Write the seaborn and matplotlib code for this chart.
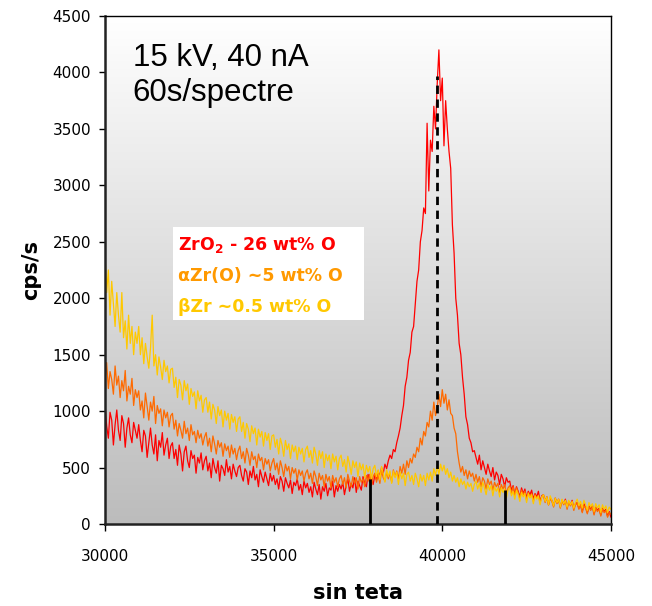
import numpy as np
import pandas as pd
import matplotlib
matplotlib.use("Agg")
import matplotlib.pyplot as plt
import seaborn as sns

# sin teta axis, one reading every 50 units
x_start, x_stop, x_step = 30000, 45000, 50

zro2 = [
    1050, 870, 760, 990, 920, 700, 880, 1010, 830, 740, 960, 890, 680, 850, 940, 790, 720, 900, 830, 760,
    880, 740, 640, 830, 780, 590, 720, 850, 700, 620, 790, 560, 740, 680, 810, 610, 700, 760, 580, 690,
    720, 580, 660, 520, 700, 620, 470, 640, 690, 560, 500, 650, 580, 610, 450, 590, 540, 630, 480, 560,
    600, 470, 540, 410, 580, 500, 450, 560, 380, 520, 490, 430, 570, 460, 510, 400, 530, 470, 420, 500,
    520, 430, 380, 490, 460, 350, 470, 410, 510, 390, 440, 330, 480, 420, 370, 460, 400, 340, 450, 380,
    430, 350, 400, 310, 420, 380, 290, 410, 360, 320, 390, 270, 370, 340, 400, 300, 350, 260, 380, 320,
    360, 280, 330, 240, 370, 310, 260, 350, 220, 330, 290, 360, 250, 320, 300, 380, 240, 340, 290, 350,
    310, 370, 260, 340, 400, 290, 360, 320, 410, 280, 380, 340, 300, 420, 360, 330, 440, 370, 410, 350,
    430, 390, 470, 420, 500, 450, 530, 490, 560, 610, 580, 660, 640, 720, 780, 850, 960, 1050, 1220, 1300,
    1450, 1520, 1700, 1750, 1950, 2150, 2250, 2500, 2600, 2800, 2750, 3550, 2950, 3400, 3300, 3700, 3500, 3900, 4200, 3750,
    3950, 3350, 3750, 3500, 3300, 3150, 2650, 2400, 2000, 1850, 1600, 1500, 1300, 1150, 950, 880, 760, 720, 640, 650,
    590, 530, 610, 480, 560, 500, 440, 530, 470, 420, 500, 390, 460, 430, 350, 440, 400, 330, 410, 370,
    380, 300, 340, 260, 330, 290, 240, 320, 270, 310, 230, 290, 260, 300, 220, 270, 240, 290, 200, 250,
    260, 200, 240, 170, 230, 210, 160, 230, 190, 220, 150, 210, 180, 220, 150, 200, 170, 210, 140, 180,
    190, 140, 170, 110, 180, 150, 100, 160, 130, 170, 90, 150, 120, 140, 80, 140, 110, 130, 70, 110,
    60,
]

alpha_zr = [
    1250, 1430, 1200, 1350, 1280, 1150, 1400, 1230, 1310, 1120, 1270, 1180, 1360, 1090, 1220, 1150, 1290, 1050, 1190, 1120,
    1180, 1010, 1090, 940, 1160, 1040, 920, 1080, 1000, 1130, 890, 1050, 980, 1020, 870, 1010, 940, 990, 860, 960,
    980, 840, 920, 780, 890, 830, 760, 910, 800, 850, 740, 880, 790, 820, 720, 830, 760, 800, 700, 770,
    810, 690, 760, 640, 780, 710, 620, 740, 680, 720, 600, 710, 650, 690, 590, 700, 620, 670, 570, 650,
    690, 580, 640, 540, 670, 610, 520, 640, 570, 600, 500, 620, 560, 590, 480, 580, 530, 570, 470, 540,
    580, 480, 540, 440, 560, 500, 420, 530, 470, 510, 400, 500, 450, 490, 390, 480, 430, 470, 380, 450,
    480, 400, 450, 360, 470, 420, 340, 450, 390, 430, 330, 440, 380, 420, 320, 430, 370, 410, 330, 400,
    430, 350, 410, 320, 440, 380, 330, 420, 360, 410, 310, 420, 370, 400, 330, 430, 380, 440, 340, 420,
    450, 370, 430, 360, 470, 410, 380, 460, 400, 450, 370, 480, 420, 470, 400, 510, 450, 530, 440, 560,
    500, 580, 540, 620, 590, 680, 640, 760, 700, 820, 780, 900, 860, 1000, 920, 1080, 960, 1030, 1150, 1040,
    1190, 1070, 1150, 1010, 1100, 980, 960, 850, 800, 640, 540, 460, 510, 430, 480, 400, 470, 420, 450, 380,
    440, 370, 420, 330, 410, 380, 310, 400, 350, 380, 300, 370, 330, 360, 280, 350, 310, 350, 270, 320,
    340, 270, 330, 250, 320, 280, 230, 300, 260, 290, 210, 280, 240, 270, 200, 260, 230, 250, 190, 240,
    250, 190, 240, 170, 230, 200, 150, 220, 180, 210, 140, 210, 170, 200, 130, 190, 160, 190, 120, 170,
    180, 130, 170, 100, 160, 140, 90, 150, 120, 150, 80, 140, 110, 130, 70, 130, 100, 120, 60, 100,
    90,
]

beta_zr = [
    2400, 2050, 2250, 1850, 2150, 1950, 1750, 2050, 1850, 1700, 2050, 1650, 1800, 1550, 1850, 1600, 1750, 1500, 1700, 1600,
    1750, 1500, 1650, 1420, 1600, 1480, 1380, 1560, 1850, 1400, 1500, 1320, 1480, 1390, 1280, 1450, 1350, 1400, 1250, 1370,
    1380, 1210, 1300, 1120, 1280, 1230, 1100, 1270, 1180, 1240, 1060, 1200, 1130, 1170, 1020, 1180, 1090, 1140, 990, 1100,
    1120, 990, 1080, 930, 1060, 1010, 890, 1040, 960, 1010, 860, 1000, 920, 980, 840, 970, 900, 950, 820, 930,
    950, 820, 900, 760, 890, 840, 730, 870, 800, 850, 700, 840, 770, 820, 690, 810, 740, 800, 660, 780,
    790, 680, 750, 620, 760, 700, 600, 740, 660, 710, 580, 700, 640, 690, 570, 680, 620, 670, 550, 660,
    690, 590, 650, 540, 680, 620, 520, 650, 580, 640, 500, 620, 560, 610, 490, 620, 550, 600, 480, 580,
    610, 510, 570, 460, 600, 530, 440, 560, 500, 550, 420, 540, 480, 530, 410, 520, 460, 510, 400, 490,
    520, 420, 480, 390, 510, 450, 370, 480, 420, 470, 360, 470, 410, 460, 350, 460, 400, 450, 340, 440,
    460, 380, 430, 350, 450, 400, 330, 440, 380, 430, 340, 450, 390, 460, 380, 490, 430, 510, 440, 530,
    470, 520, 440, 490, 410, 460, 380, 430, 370, 410, 330, 400, 350, 380, 310, 370, 330, 360, 290, 350,
    380, 310, 360, 280, 370, 320, 260, 350, 300, 340, 250, 330, 290, 320, 240, 320, 280, 310, 230, 300,
    320, 250, 290, 220, 300, 260, 200, 280, 240, 270, 190, 270, 230, 260, 180, 250, 220, 250, 170, 240,
    260, 200, 240, 170, 250, 210, 160, 230, 190, 220, 150, 220, 180, 210, 150, 210, 170, 200, 140, 190,
    220, 160, 200, 140, 210, 170, 120, 190, 150, 180, 110, 180, 140, 170, 100, 170, 130, 160, 100, 150,
    130,
]

# reference markers (position, height)
solid_marks_x = [37850, 41870]
solid_marks_h = [400, 300]
dashed_mark_x = 39830
dashed_mark_h = 3970

labels = ["ZrO$_\\mathbf{2}$ - 26 wt% O", "\u03b1Zr(O) ~5 wt% O", "\u03b2Zr ~0.5 wt% O"]
line_colors = ["#ff0000", "#ff6a00", "#ffc800"]
text_colors = ["#ff0000", "#ff9900", "#ffc800"]

x = np.arange(x_start, x_stop + x_step, x_step)
df = pd.DataFrame({"sin teta": x, "ZrO2": zro2, "aZr": alpha_zr, "bZr": beta_zr})

sns.set_style("ticks")
plt.rcParams["font.family"] = ["DejaVu Sans"]
plt.rcParams.update({"text.color": "black", "axes.labelcolor": "black",
                     "xtick.color": "black", "ytick.color": "black"})

fig = plt.figure(figsize=(6.52, 6.06), dpi=100)
ax = fig.add_axes([0.161, 0.1353, 0.776, 0.8383])

# grey gradient behind the plot
grad = np.linspace(1.0, 0.0, 256).reshape(-1, 1)
ax.imshow(grad, cmap=matplotlib.colors.LinearSegmentedColormap.from_list("g", ["#bcbcbc", "#ffffff"]),
          extent=[0, 1, 0, 1], transform=ax.transAxes, aspect="auto", zorder=0)

for col, c in zip(["ZrO2", "aZr", "bZr"], line_colors):
    sns.lineplot(data=df, x="sin teta", y=col, ax=ax, color=c, linewidth=0.9, zorder=2)

ax.vlines(solid_marks_x, 0, solid_marks_h, color="black", linewidth=2, zorder=3)
ax.vlines(dashed_mark_x, 0, dashed_mark_h, color="black", linewidth=2,
          linestyles=(0, (3, 2)), zorder=3)

ax.set_xlim(30000, 45000)
ax.set_ylim(0, 4500)
ax.set_xticks([30000, 35000, 40000, 45000])
ax.set_yticks(range(0, 4501, 500))
ax.tick_params(axis="x", length=5, width=1, pad=13, labelsize=11)
ax.tick_params(axis="y", length=4, width=1, pad=6, labelsize=11)

for s in ["left", "bottom"]:
    ax.spines[s].set_linewidth(1.8)
    ax.spines[s].set_color("#222222")
for s in ["top", "right"]:
    ax.spines[s].set_linewidth(1)
    ax.spines[s].set_color("black")

ax.set_xlabel("sin teta", fontsize=15, fontweight="bold", labelpad=14)
ax.set_ylabel("cps/s", fontsize=15, fontweight="bold", labelpad=8)

ax.text(0.055, 0.947, "15 kV, 40 nA\n60s/spectre", transform=ax.transAxes,
        fontsize=22.5, family="Liberation Sans", va="top", ha="left", linespacing=1.2, zorder=4)

# legend block
ax.add_patch(plt.Rectangle((0.134, 0.402), 0.378, 0.183, transform=ax.transAxes,
                           facecolor="white", edgecolor="none", zorder=4))
for i, (lab, c) in enumerate(zip(labels, text_colors)):
    ax.text(0.144, 0.549 - i * 0.061, lab, transform=ax.transAxes, color=c,
            fontsize=12.5, fontweight="bold", va="center", ha="left", zorder=5)

fig.savefig("out.png", dpi=100)
